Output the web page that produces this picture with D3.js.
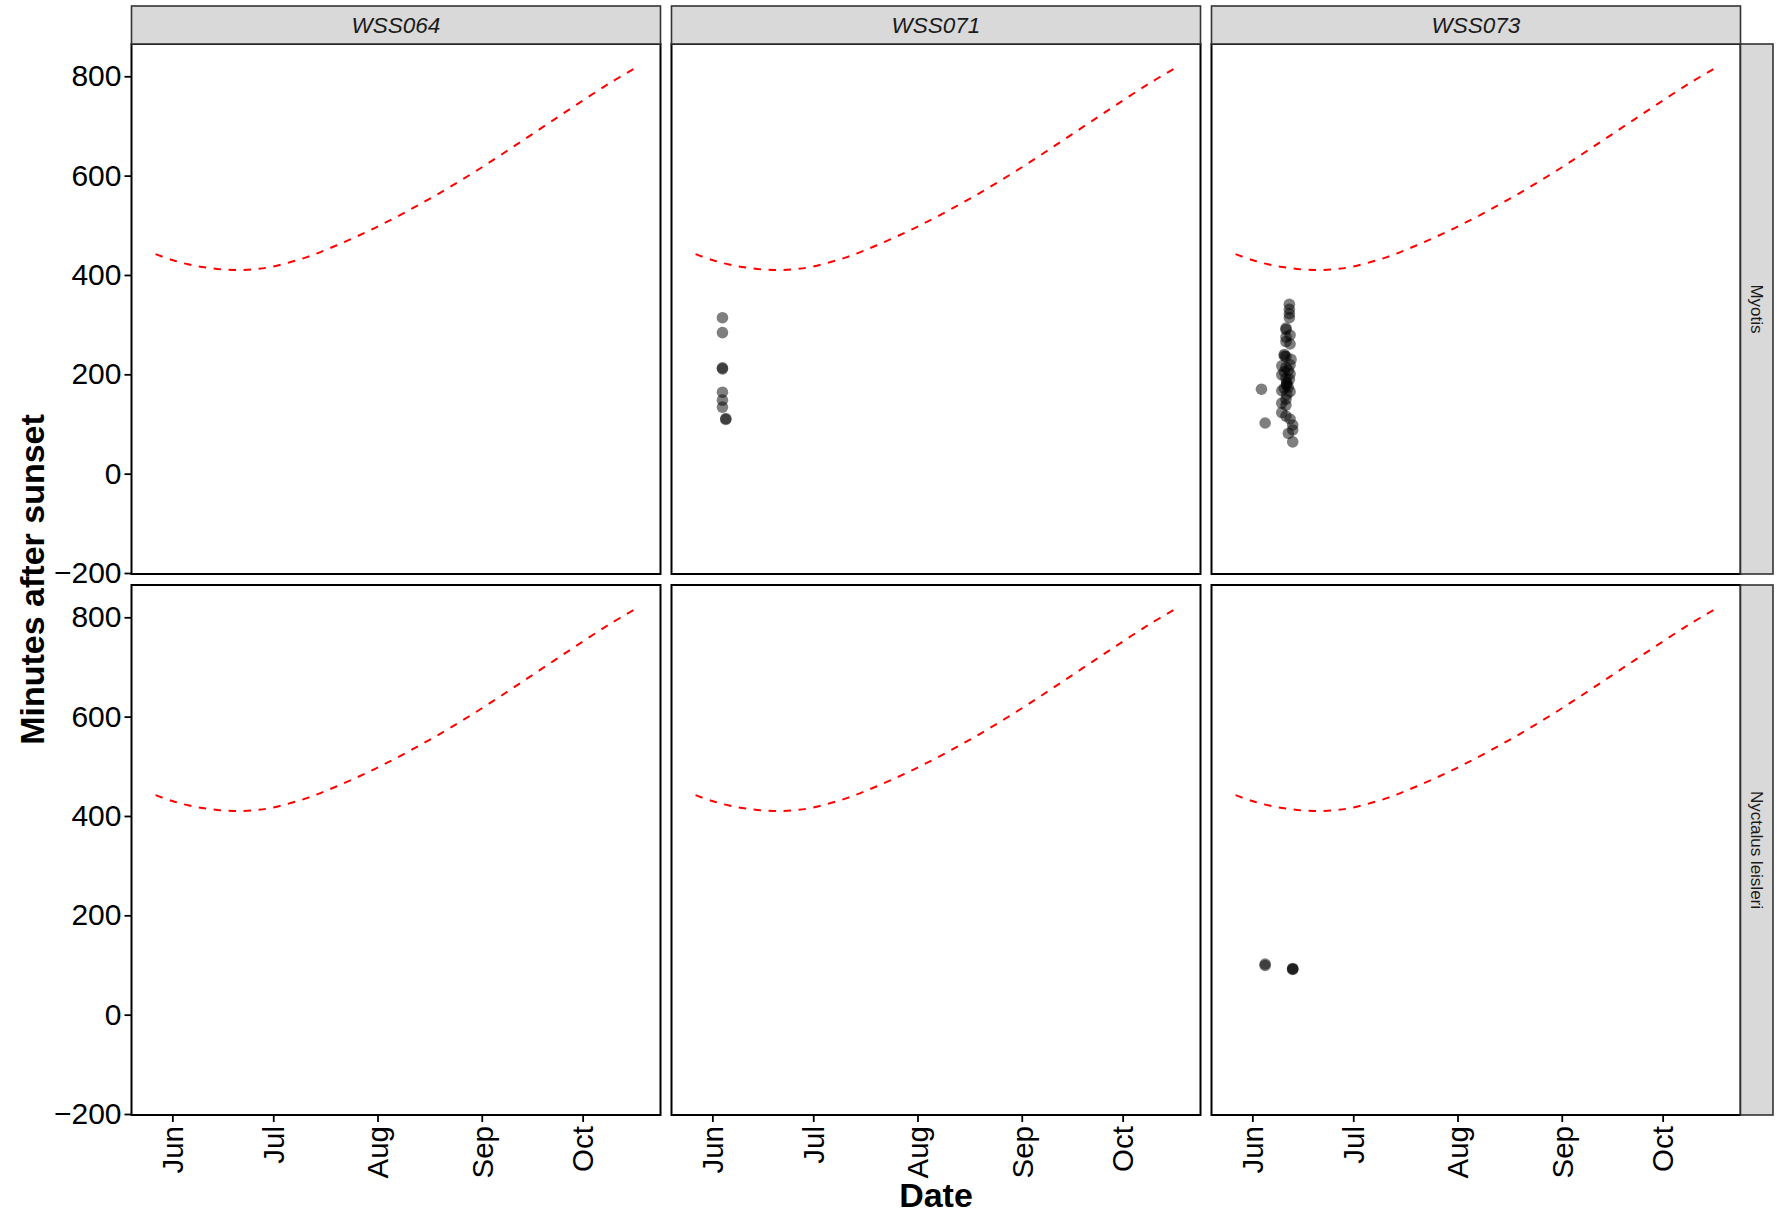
<!DOCTYPE html>
<html><head><meta charset="utf-8">
<script src="https://cdn.jsdelivr.net/npm/d3@7"></script>
<style>body{margin:0;background:#fff}svg{display:block}text{font-family:"Liberation Sans",Arial,sans-serif}</style>
</head><body>
<svg id="chart" width="1782" height="1218"></svg>
<script>
// ---------- data ----------
const sites = ["WSS064", "WSS071", "WSS073"];
const species = ["Myotis", "Nyctalus leisleri"];
const monthTicks = ["2021-06-01", "2021-07-01", "2021-08-01", "2021-09-01", "2021-10-01"];
const yTicks = [-200, 0, 200, 400, 600, 800];
const yLimits = [-202, 865];

// night length line (minutes), same in every panel
const lineDates = ["2021-05-27","2021-06-01","2021-06-06","2021-06-11","2021-06-16","2021-06-21","2021-06-26",
  "2021-07-01","2021-07-11","2021-07-21","2021-07-31","2021-08-10","2021-08-20","2021-08-30",
  "2021-09-09","2021-09-19","2021-09-29","2021-10-09","2021-10-17"];
const lineMinutes = [442, 430, 421, 415, 411, 410, 412, 417, 436, 463, 494, 529, 567, 608, 652, 697, 742, 786, 818];

// observations: WSS071 / Myotis
const wss071MyotisTimes = ["2021-06-04 00:00","2021-06-04 00:00","2021-06-04 00:00","2021-06-04 00:00",
  "2021-06-04 00:00","2021-06-04 00:00","2021-06-04 00:00","2021-06-05 00:00","2021-06-05 00:00"];
const wss071MyotisMinutes = [314, 284, 213, 211, 164, 148, 134, 111, 109];

// observations: WSS073 / Myotis
const wss073MyotisTimes = [
  "2021-06-12 00:00","2021-06-12 00:00","2021-06-12 00:00","2021-06-12 00:00",
  "2021-06-11 00:00","2021-06-11 00:00","2021-06-12 05:00","2021-06-11 00:00","2021-06-11 00:00",
  "2021-06-12 05:00","2021-06-10 12:00","2021-06-10 12:00","2021-06-11 00:00","2021-06-12 12:00",
  "2021-06-12 05:00","2021-06-09 18:00","2021-06-11 00:00","2021-06-09 18:00","2021-06-12 05:00",
  "2021-06-11 00:00","2021-06-11 05:00","2021-06-11 05:00","2021-06-11 05:00","2021-06-11 17:00",
  "2021-06-09 18:00","2021-06-12 05:00","2021-06-11 05:00","2021-06-09 18:00","2021-06-11 00:00",
  "2021-06-09 18:00","2021-06-11 00:00","2021-06-12 05:00","2021-06-13 00:00","2021-06-13 00:00",
  "2021-06-11 17:00","2021-06-13 00:00","2021-06-03 17:00","2021-06-04 19:00",
  "2021-06-10 12:00","2021-06-10 12:00","2021-06-11 00:00","2021-06-12 00:00","2021-06-11 17:00"];
const wss073MyotisMinutes = [
  341, 331, 322, 314,
  293, 290, 279, 275, 266,
  261, 240, 237, 236, 230,
  219, 217, 214, 199, 201,
  192, 184, 181, 178, 174,
  167, 165, 159, 142, 138,
  123, 116, 110, 98, 88,
  81, 64, 170, 102,
  205, 172, 150, 190, 208];

// observations: WSS073 / Nyctalus leisleri
const wss073NyctalusTimes = ["2021-06-04 19:00","2021-06-04 19:00","2021-06-13 00:00","2021-06-13 00:00","2021-06-13 00:00"];
const wss073NyctalusMinutes = [102, 99, 93, 91, 92];

// ---------- build ----------
const parseDay = d3.timeParse("%Y-%m-%d");
const parseTime = d3.timeParse("%Y-%m-%d %H:%M");
const line = lineDates.map((d, i) => ({date: parseDay(d), value: lineMinutes[i]}));
const pts = (times, mins) => times.map((t, i) => ({date: parseTime(t), value: mins[i]}));
const obs = {
  "WSS071|Myotis": pts(wss071MyotisTimes, wss071MyotisMinutes),
  "WSS073|Myotis": pts(wss073MyotisTimes, wss073MyotisMinutes),
  "WSS073|Nyctalus leisleri": pts(wss073NyctalusTimes, wss073NyctalusMinutes)
};

// layout
const panelLeft = [131.5, 671.5, 1211.5], panelW = 529;
const rowTop = [44, 585], panelH = 530;
const stripTop = 6, stripRight = 1740.5, stripW = 32.5;

const ext = d3.extent(line, d => d.date);
const span = ext[1] - ext[0];
const x = d3.scaleTime()
  .domain([new Date(+ext[0] - 0.05 * span), new Date(+ext[1] + 0.05 * span)])
  .range([0, panelW]);
const y = d3.scaleLinear().domain(yLimits).range([panelH, 0]);

const svg = d3.select("#chart");
svg.append("rect").attr("width", 1782).attr("height", 1218).attr("fill", "#fff");

const lineGen = d3.line().x(d => x(d.date)).y(d => y(d.value)).curve(d3.curveCatmullRom);

svg.append("defs").append("clipPath").attr("id", "clip")
  .append("rect").attr("width", panelW).attr("height", panelH);

species.forEach((sp, r) => {
  sites.forEach((site, c) => {
    const g = svg.append("g").attr("transform", `translate(${panelLeft[c]},${rowTop[r]})`);
    const inner = g.append("g").attr("clip-path", "url(#clip)");
    inner.append("path").datum(line).attr("d", lineGen)
      .attr("fill", "none").attr("stroke", "#FF0000").attr("stroke-width", 2)
      .attr("stroke-dasharray", "7.5,7.5");
    const data = obs[site + "|" + sp] || [];
    inner.selectAll("circle").data(data).join("circle")
      .attr("cx", d => x(d.date)).attr("cy", d => y(d.value)).attr("r", 5.8)
      .attr("fill", "#000").attr("fill-opacity", 0.5);
    g.append("rect").attr("width", panelW).attr("height", panelH)
      .attr("fill", "none").attr("stroke", "#000").attr("stroke-width", 2);

    if (c === 0) {
      const ax = g.append("g").call(d3.axisLeft(y).tickValues(yTicks).tickSize(7).tickPadding(3)
        .tickFormat(v => (v < 0 ? "\u2212" + Math.abs(v) : String(v))));
      ax.select(".domain").remove();
      ax.selectAll("line").attr("stroke", "#000").attr("stroke-width", 1.8);
      ax.selectAll("text").attr("font-size", 30).attr("fill", "#000")
        .attr("font-family", '"Liberation Sans",Arial,sans-serif');
    }
    if (r === 1) {
      const ax = g.append("g").attr("transform", `translate(0,${panelH})`)
        .call(d3.axisBottom(x).tickValues(monthTicks.map(parseDay)).tickSize(7)
          .tickFormat(d3.timeFormat("%b")));
      ax.select(".domain").remove();
      ax.selectAll("line").attr("stroke", "#000").attr("stroke-width", 1.8);
      ax.selectAll("text").attr("font-size", 29.5).attr("fill", "#000")
        .attr("font-family", '"Liberation Sans",Arial,sans-serif')
        .attr("transform", "rotate(-90)").attr("x", -11).attr("y", 0)
        .attr("dy", "0.35em").attr("text-anchor", "end");
    }
  });
});

// top strips
sites.forEach((site, c) => {
  svg.append("rect").attr("x", panelLeft[c]).attr("y", stripTop)
    .attr("width", panelW).attr("height", rowTop[0] - stripTop)
    .attr("fill", "#D9D9D9").attr("stroke", "#333").attr("stroke-width", 1.6);
  svg.append("text").attr("x", panelLeft[c] + panelW / 2).attr("y", (stripTop + rowTop[0]) / 2)
    .attr("dy", "0.35em").attr("text-anchor", "middle").attr("font-size", 22.5)
    .attr("font-style", "italic").attr("fill", "#1A1A1A").text(site);
});
// right strips
species.forEach((sp, r) => {
  svg.append("rect").attr("x", stripRight).attr("y", rowTop[r])
    .attr("width", stripW).attr("height", panelH)
    .attr("fill", "#D9D9D9").attr("stroke", "#333").attr("stroke-width", 1.6);
  const cx = stripRight + stripW / 2, cy = rowTop[r] + panelH / 2;
  svg.append("text").attr("transform", `translate(${cx},${cy}) rotate(90)`)
    .attr("dy", "0.35em").attr("text-anchor", "middle").attr("font-size", 17)
    .attr("fill", "#1A1A1A").text(sp);
});

// axis titles
svg.append("text").attr("x", (panelLeft[0] + panelLeft[2] + panelW) / 2).attr("y", 1207)
  .attr("text-anchor", "middle").attr("font-size", 34).attr("font-weight", "bold")
  .attr("fill", "#000").text("Date");
svg.append("text").attr("transform", `translate(43.5,${(rowTop[0] + rowTop[1] + panelH) / 2}) rotate(-90)`)
  .attr("text-anchor", "middle").attr("font-size", 34).attr("font-weight", "bold")
  .attr("fill", "#000").text("Minutes after sunset");
</script>
</body></html>
